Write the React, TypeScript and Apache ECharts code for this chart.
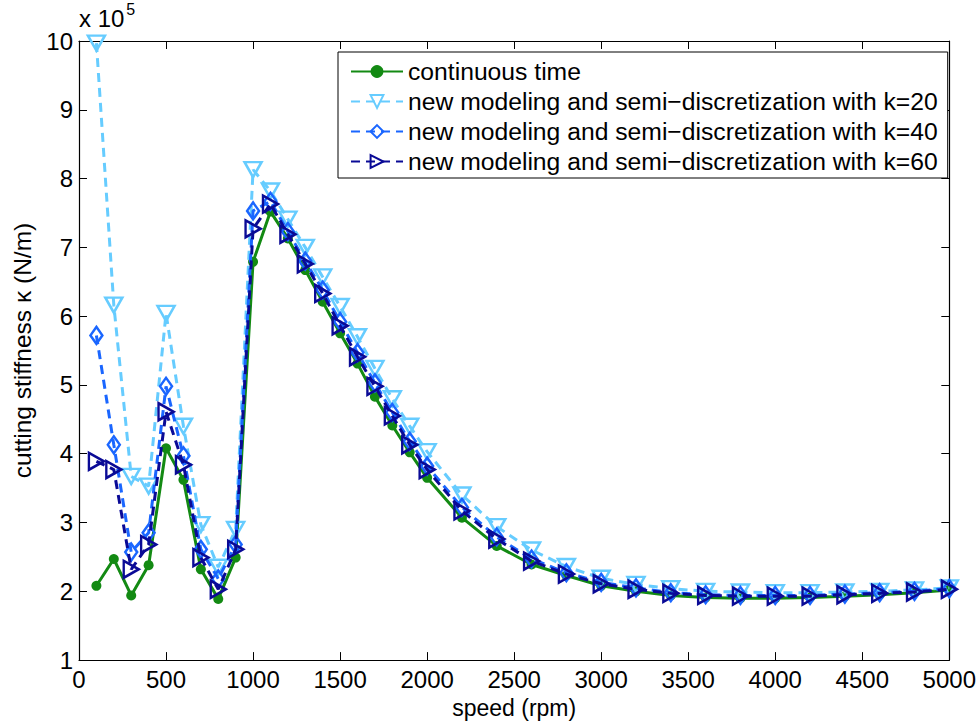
import React, { useEffect, useRef } from "react";
import * as echarts from "echarts";

const speeds = [100, 200, 300, 400, 500, 600, 700, 800, 900, 1000, 1100, 1200, 1300, 1400, 1500, 1600, 1700, 1800, 1900, 2000,
  2200, 2400, 2600, 2800, 3000, 3200, 3400, 3600, 3800, 4000, 4200, 4400, 4600, 4800, 5000];

const continuousTime = [2.08, 2.47, 1.94, 2.38, 4.08, 3.62, 2.32, 1.89, 2.49, 6.79, 7.52, 7.13, 6.67, 6.21, 5.75, 5.31, 4.83, 4.41, 4.02, 3.65,
  3.07, 2.66, 2.39, 2.23, 2.08, 2.0, 1.94, 1.91, 1.9, 1.9, 1.91, 1.93, 1.95, 1.98, 2.02];

const k20 = [9.97, 6.16, 3.67, 3.53, 6.04, 4.4, 2.97, 2.35, 2.9, 8.13, 7.82, 7.41, 7.0, 6.57, 6.14, 5.7, 5.24, 4.8, 4.4, 4.03,
  3.4, 2.94, 2.6, 2.36, 2.19, 2.1, 2.04, 2.0, 1.99, 1.98, 1.98, 1.99, 2.0, 2.02, 2.05];

const k40 = [5.72, 4.13, 2.57, 2.85, 4.98, 3.97, 2.61, 2.18, 2.68, 7.53, 7.67, 7.23, 6.8, 6.38, 5.92, 5.47, 5.03, 4.6, 4.18, 3.82,
  3.22, 2.79, 2.47, 2.27, 2.13, 2.05, 1.98, 1.95, 1.94, 1.94, 1.94, 1.96, 1.98, 2.0, 2.04];

const k60 = [3.89, 3.77, 2.32, 2.68, 4.61, 3.84, 2.49, 2.03, 2.61, 7.27, 7.63, 7.19, 6.76, 6.33, 5.86, 5.41, 4.98, 4.55, 4.13, 3.77,
  3.17, 2.76, 2.44, 2.25, 2.11, 2.03, 1.97, 1.94, 1.93, 1.93, 1.93, 1.95, 1.97, 1.99, 2.03];

const seriesNames = [
  "continuous time",
  "new modeling and semi\u2212discretization with k=20",
  "new modeling and semi\u2212discretization with k=40",
  "new modeling and semi\u2212discretization with k=60",
];

const FONT = "Liberation Sans, Arial, Helvetica, sans-serif";

export default function App() {
  const ref = useRef<HTMLDivElement>(null);
  useEffect(() => {
    if (!ref.current) return;
    const chart = echarts.init(ref.current, undefined, { renderer: "svg" });
    const pair = (arr: number[]) => speeds.map((s, i) => [s, arr[i]]);
    const axisCommon = {
      axisLine: { show: true, onZero: false, lineStyle: { color: "#000", width: 1.2 } },
      axisTick: { show: true, inside: true, length: 8, lineStyle: { color: "#000" } },
      splitLine: { show: false },
    };
    chart.setOption({
      animation: false,
      backgroundColor: "#fff",
      textStyle: { fontFamily: FONT },
      grid: { left: 79, top: 41, right: 27, bottom: 61, containLabel: false },
      xAxis: [
        {
          type: "value", min: 0, max: 5000, interval: 500, position: "bottom",
          ...axisCommon,
          axisLabel: { color: "#000", fontSize: 24, margin: 7, fontFamily: FONT, formatter: (v: number) => String(v) },
          name: "speed (rpm)", nameLocation: "middle", nameGap: 33,
          nameTextStyle: { color: "#000", fontSize: 23, fontFamily: FONT },
        },
        {
          type: "value", min: 0, max: 5000, interval: 500, position: "top",
          ...axisCommon, axisLabel: { show: false },
        },
      ],
      yAxis: [
        {
          type: "value", min: 1, max: 10, interval: 1, position: "left",
          ...axisCommon,
          axisLabel: { color: "#000", fontSize: 24, margin: 6, fontFamily: FONT },
          name: "cutting stiffness \u03ba (N/m)", nameLocation: "middle", nameGap: 40,
          nameTextStyle: { color: "#000", fontSize: 24.5, fontFamily: FONT },
        },
        {
          type: "value", min: 1, max: 10, interval: 1, position: "right",
          ...axisCommon, axisLabel: { show: false },
        },
      ],
      legend: {
        orient: "vertical", left: 338, top: 52,
        data: seriesNames,
        backgroundColor: "#fff",
        borderColor: "#000", borderWidth: 1,
        padding: [7, 10, 4, 12],
        itemGap: 5, itemWidth: 52, itemHeight: 16,
        textStyle: { color: "#000", fontSize: 24.7, fontFamily: FONT },
      },
      graphic: [
        {
          type: "text", left: 79, top: 1,
          style: {
            text: "{a|x 10}{b|5}",
            rich: {
              a: { fontSize: 24, fontFamily: FONT, fill: "#000", padding: [10, 0, 0, 0] },
              b: { fontSize: 16, fontFamily: FONT, fill: "#000", padding: [0, 0, 8, 2] },
            },
          },
        },
      ],
      series: [
        {
          name: seriesNames[0], type: "line", data: pair(continuousTime),
          symbol: "circle", symbolSize: 10, showAllSymbol: true,
          lineStyle: { color: "#138a13", width: 3 },
          itemStyle: { color: "#138a13", borderColor: "#138a13", borderWidth: 0 },
          z: 2,
        },
        {
          name: seriesNames[1], type: "line", data: pair(k20),
          symbol: "triangle", symbolSize: [17, 15], symbolRotate: 180, showAllSymbol: true,
          lineStyle: { color: "#66ccff", width: 3, type: [9, 6] },
          itemStyle: { color: "rgba(255,255,255,0)", borderColor: "#66ccff", borderWidth: 2.5 },
          z: 3,
        },
        {
          name: seriesNames[2], type: "line", data: pair(k40),
          symbol: "diamond", symbolSize: [12, 17], showAllSymbol: true,
          lineStyle: { color: "#1a66ff", width: 3, type: [9, 6] },
          itemStyle: { color: "rgba(255,255,255,0)", borderColor: "#1a66ff", borderWidth: 2.5 },
          z: 4,
        },
        {
          name: seriesNames[3], type: "line", data: pair(k60),
          symbol: "triangle", symbolSize: [17, 15], symbolRotate: -90, showAllSymbol: true,
          lineStyle: { color: "#0a0a96", width: 3, type: [9, 6] },
          itemStyle: { color: "rgba(255,255,255,0)", borderColor: "#0a0a96", borderWidth: 2.5 },
          z: 5,
        },
      ],
    });
    return () => chart.dispose();
  }, []);
  return (
    <div
      ref={ref}
      style={{ position: "fixed", left: 0, top: 0, width: 979, height: 724, background: "#fff" }}
    />
  );
}
